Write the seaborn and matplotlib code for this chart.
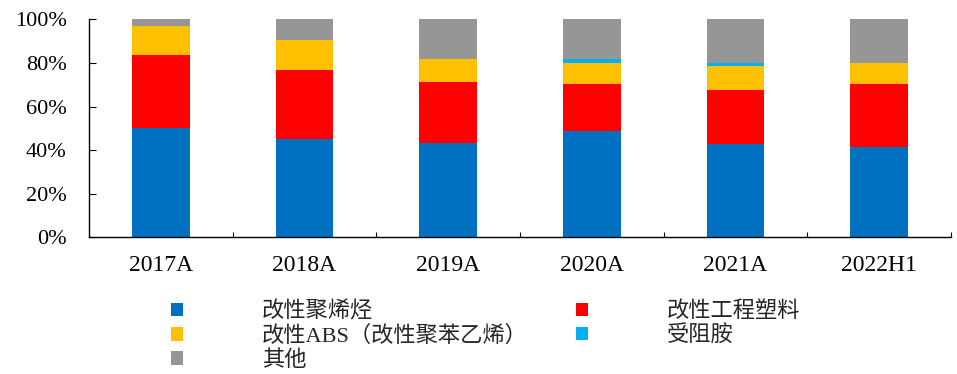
import matplotlib
matplotlib.use("Agg")
import matplotlib.pyplot as plt
from matplotlib.patches import Patch
from matplotlib.ticker import FixedLocator, PercentFormatter
import numpy as np
import seaborn as sns

# Revenue mix by product line (%)
categories = ["2017A", "2018A", "2019A", "2020A", "2021A", "2022H1"]
polyolefin = [50.3, 45.0, 43.1, 48.6, 43.0, 41.6]
eng_plastic = [33.2, 31.7, 28.0, 21.7, 24.4, 28.6]
abs_vals = [13.7, 13.8, 10.9, 9.5, 11.0, 9.6]
hals = [0.0, 0.0, 0.0, 2.0, 1.7, 0.0]
other = [2.8, 9.5, 18.0, 18.2, 19.9, 20.2]

series_names = ["改性聚烯烃", "改性工程塑料", "改性ABS（改性聚苯乙烯）", "受阻胺", "其他"]
series_vals = [polyolefin, eng_plastic, abs_vals, hals, other]
colors = ["#0070C0", "#FF0000", "#FFC000", "#00B0F0", "#969696"]

sns.set_style("ticks")
plt.rcParams["font.family"] = ["Liberation Serif", "Noto Sans CJK SC", "DejaVu Sans"]

fig = plt.figure(figsize=(9.57, 3.74), dpi=100)
ax = fig.add_axes([0.093, 0.366, 0.9007, 0.582])

bottom = np.zeros(len(categories))
for name, vals, col in zip(series_names, series_vals, colors):
    sns.barplot(x=categories, y=vals, bottom=bottom, color=col, width=0.4,
                saturation=1, linewidth=0, ax=ax)
    bottom = bottom + np.array(vals)

ax.set_xlim(-0.5, len(categories) - 0.5)
ax.set_ylim(0, 100)
ax.set_yticks(np.arange(0, 101, 20))
ax.yaxis.set_major_formatter(PercentFormatter(decimals=0))
ax.set_xlabel("")
ax.set_ylabel("")

for s in ["top", "right"]:
    ax.spines[s].set_visible(False)
for s in ["left", "bottom"]:
    ax.spines[s].set_color("black")
    ax.spines[s].set_linewidth(1.0)

ax.tick_params(axis="y", direction="in", length=5, width=0.8, pad=16,
               labelsize=16, colors="black")
ax.tick_params(axis="x", which="major", length=0, pad=13, labelsize=17,
               colors="black")
ax.xaxis.set_minor_locator(FixedLocator(np.arange(0.5, len(categories), 1.0)))
ax.tick_params(axis="x", which="minor", direction="in", length=3.5, width=0.8,
               colors="black")

handles = [Patch(facecolor=c, edgecolor="none") for c in colors]
order = [0, 2, 4, 1, 3]
fig.legend([handles[i] for i in order], [series_names[i] for i in order],
           loc="upper left", bbox_to_anchor=(0.1787, 0.196), ncol=2,
           frameon=False, fontsize=16, handlelength=0.54, handleheight=0.54,
           handletextpad=3.55, columnspacing=2.15, labelspacing=0.16,
           borderpad=0, borderaxespad=0)

fig.savefig("out.png", dpi=100)
